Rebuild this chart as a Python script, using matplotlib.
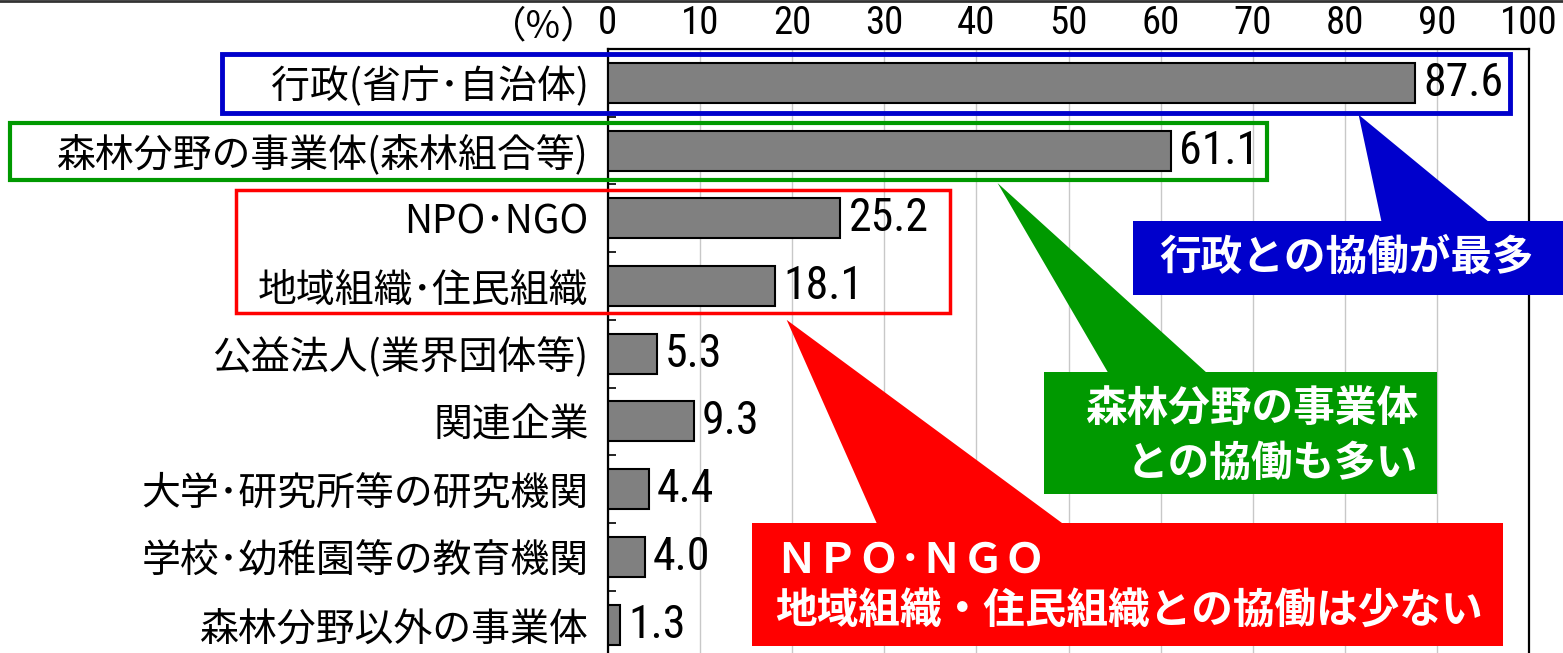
import matplotlib.pyplot as plt
import numpy as np
from matplotlib.patches import Rectangle, Polygon
from matplotlib.lines import Line2D

# 協働相手（複数回答, %）
categories = [
    "行政(省庁･自治体)",
    "森林分野の事業体(森林組合等)",
    "NPO･NGO",
    "地域組織･住民組織",
    "公益法人(業界団体等)",
    "関連企業",
    "大学･研究所等の研究機関",
    "学校･幼稚園等の教育機関",
    "森林分野以外の事業体",
]
values = [87.6, 61.1, 25.2, 18.1, 5.3, 9.3, 4.4, 4.0, 1.3]
xticks = list(range(0, 101, 10))

JP = ["Noto Sans CJK JP", "DejaVu Sans"]
NARROW = ["Roboto Condensed", "Liberation Sans Narrow", "Roboto", "DejaVu Sans"]

W, H = 1563, 653
fig = plt.figure(figsize=(W / 100, H / 100), dpi=100)
ax = fig.add_axes([608 / W, 1 - 658.5 / H, (1529 - 608) / W, 609.5 / H])

ypos = np.arange(len(categories))
bars = ax.barh(ypos, values, height=0.59, color="#808080",
               edgecolor="black", linewidth=1.5, zorder=3)

ax.set_xlim(0, 100)
ax.set_ylim(len(categories) - 0.5, -0.5)

# 目盛りは上側
ax.xaxis.tick_top()
ax.set_xticks(xticks)
ax.tick_params(axis="x", length=0, pad=5, labelsize=28)
for t in ax.get_xticklabels():
    t.set_fontfamily(NARROW)

ax.set_yticks(ypos, categories, fontfamily=JP, fontsize=28)
ax.tick_params(axis="y", which="major", length=0, pad=14)
ax.set_yticks(np.arange(-0.5, len(categories), 1), minor=True)
ax.tick_params(axis="y", which="minor", direction="in", length=6, width=1.2)

ax.grid(axis="x", color="#c8c8c8", linewidth=1)
ax.set_axisbelow(True)
for s in ["top", "left", "right", "bottom"]:
    ax.spines[s].set_color("black")
    ax.spines[s].set_linewidth(1.6)

ax.bar_label(bars, labels=[f"{v:.1f}" for v in values], padding=6,
             fontsize=33, fontfamily=NARROW)

ax.text(-7.0, 1.036, "（%）", transform=ax.get_xaxis_transform(),
        ha="center", va="center", fontsize=27, fontfamily=JP)

# カテゴリを囲む枠
def frame(x0, x1, y0, y1, color, lw):
    ax.add_patch(Rectangle((x0, y0), x1 - x0, y1 - y0, fill=False,
                           edgecolor=color, linewidth=lw, clip_on=False, zorder=4))

frame(-41.9, 97.9, -0.43, 0.44, "#0000cc", 3.5)
frame(-64.9, 71.6, 0.59, 1.43, "#009900", 3.0)
frame(-40.4, 37.1, 1.58, 3.40, "#ff0000", 2.5)

# 吹き出し
def callout(rect, tri, color):
    x0, x1, y0, y1 = rect
    ax.add_patch(Rectangle((x0, y0), x1 - x0, y1 - y0, facecolor=color,
                           linewidth=0, clip_on=False, zorder=5))
    ax.add_patch(Polygon(tri, closed=True, facecolor=color,
                         linewidth=0, clip_on=False, zorder=5))

callout((57.0, 103.7, 2.04, 3.13),
        [(81.5, 0.47), (84.0, 2.06), (95.7, 2.06)], "#0000cc")
callout((47.3, 90.0, 4.27, 6.07),
        [(42.3, 1.48), (54.3, 4.28), (65.0, 4.28)], "#009900")
callout((15.6, 97.2, 6.50, 8.32),
        [(19.4, 3.50), (29.2, 6.51), (49.4, 6.51)], "#ff0000")

txt = dict(color="white", fontsize=30, fontweight="bold", fontfamily=JP,
           va="center", zorder=6, clip_on=False)
ax.text(80.2, 2.58, "行政との協働が最多", ha="center", **txt)
ax.text(88.0, 4.82, "森林分野の事業体", ha="right", **txt)
ax.text(88.0, 5.62, "との協働も多い", ha="right", **txt)
ax.text(18.1, 7.05, "ＮＰＯ･ＮＧＯ", ha="left", **txt)
ax.text(18.1, 7.81, "地域組織・住民組織との協働は少ない", ha="left", **txt)

# 上端の罫線
fig.add_artist(Line2D([0, 1], [1 - 1 / H, 1 - 1 / H], transform=fig.transFigure,
                      color="#333333", linewidth=2))

fig.savefig("out.png", dpi=100)
